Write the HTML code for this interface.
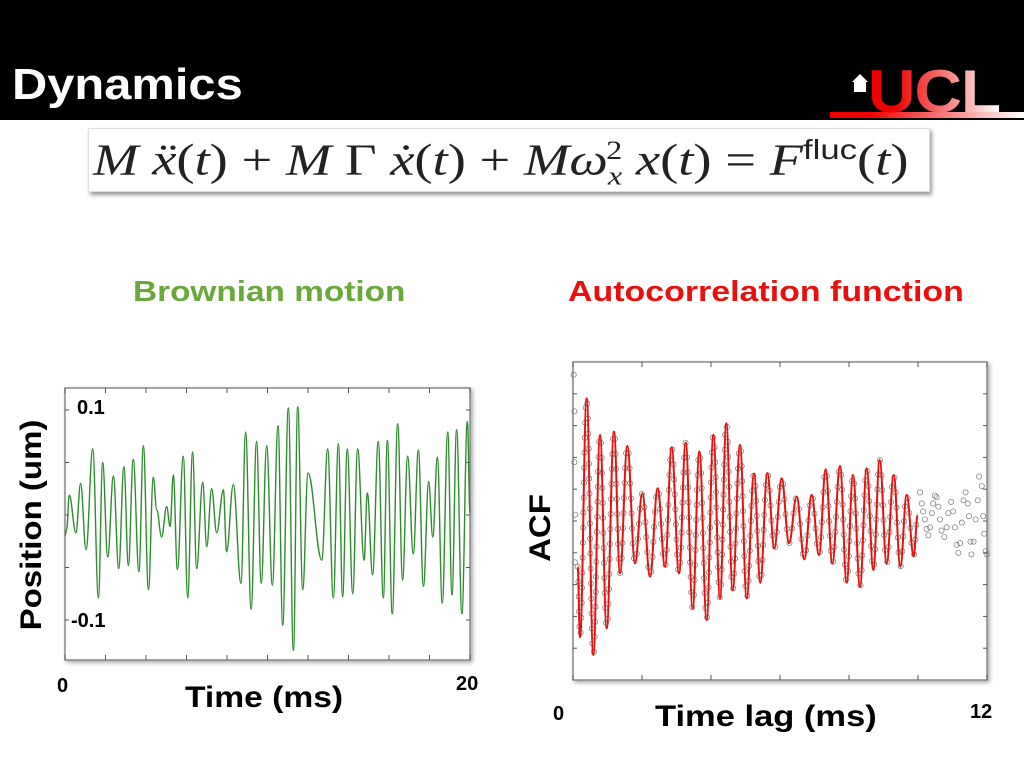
<!DOCTYPE html>
<html><head><meta charset="utf-8">
<style>
body{margin:0;width:1024px;height:768px;overflow:hidden;background:#fff;font-family:"Liberation Sans",sans-serif;position:relative}
.a{position:absolute;white-space:nowrap}
.b{font-weight:bold}
.sx{transform-origin:0 0}
</style></head><body>
<div class="a" style="left:0;top:0;width:1024px;height:120px;background:#000"></div>
<div class="a b sx" style="left:12px;top:60px;color:#fff;font-size:44px;transform:scaleX(1.11)">Dynamics</div>
<div class="a" style="left:830px;top:60px;width:194px;height:60px">
 <svg width="194" height="60"><defs><linearGradient id="g" x1="0" x2="1"><stop offset="0.2" stop-color="#e00"/><stop offset="1" stop-color="#fff"/></linearGradient></defs>
 <rect x="0" y="52" width="194" height="6" fill="url(#g)"/>
 <text x="38" y="52" font-family="Liberation Sans" font-weight="bold" font-size="60" fill="url(#g)" letter-spacing="-1" textLength="132" lengthAdjust="spacingAndGlyphs">UCL</text>
 <rect x="24" y="22" width="12" height="10" fill="#fff"/><polygon points="22,22 30,14 38,22" fill="#fff"/></svg>
</div>
<div class="a" style="left:88px;top:128px;width:840px;height:62px;background:#fff;box-shadow:2px 3px 4px #999;border:1px solid #ddd"></div>
<div class="a sx" style="left:93px;top:134px;font-family:'Liberation Serif',serif;font-size:44px;color:#222;transform:scaleX(1.24)"><i>M</i> <i>ẍ</i>(<i>t</i>) + <i>M</i> Γ <i>ẋ</i>(<i>t</i>) + <i>Mω</i><sub style="font-size:26px"><i>x</i></sub><sup style="font-size:26px;margin-left:-13px">2</sup> <i>x</i>(<i>t</i>) = <i>F</i><sup style="font-size:28px;font-family:'Liberation Sans'">fluc</sup>(<i>t</i>)</div>
<div class="a b sx" style="left:133px;top:276px;color:#6aa83c;font-size:29px;transform:scaleX(1.15)">Brownian motion</div>
<div class="a b sx" style="left:568px;top:276px;color:#e8100e;font-size:29px;transform:scaleX(1.17)">Autocorrelation function</div>

<svg class="a" id="c1" style="left:0;top:0" width="1024" height="768"></svg>

<div class="a b" style="left:32px;top:525px;font-size:30px;transform:translate(-50%,-50%) rotate(-90deg) scaleX(1.1)">Position (um)</div>
<div class="a b" style="left:77px;top:397px;font-size:20px">0.1</div>
<div class="a b" style="left:71px;top:610px;font-size:20px">-0.1</div>
<div class="a b" style="left:57px;top:675px;font-size:20px">0</div>
<div class="a b" style="left:456px;top:673px;font-size:20px">20</div>
<div class="a b sx" style="left:185px;top:681px;font-size:30px;transform:scaleX(1.12)">Time (ms)</div>
<div class="a b" style="left:541px;top:528px;font-size:30px;transform:translate(-50%,-50%) rotate(-90deg) scaleX(1.1)">ACF</div>
<div class="a b" style="left:553px;top:703px;font-size:20px">0</div>
<div class="a b" style="left:970px;top:701px;font-size:20px">12</div>
<div class="a b sx" style="left:655px;top:700px;font-size:30px;transform:scaleX(1.15)">Time lag (ms)</div>

<script>
const bmTimes=[0,0.08,0.21,0.54,0.77,1.04,1.37,1.65,1.86,2.11,2.39,2.65,2.91,3.13,3.37,3.65,3.87,4.12,4.36,4.53,4.77,5.02,5.19,5.35,5.55,5.84,6.06,6.30,6.50,6.80,7.00,7.24,7.49,7.82,7.98,8.31,8.69,8.92,9.19,9.46,9.69,9.96,10.24,10.52,10.75,11.03,11.28,11.49,11.74,12.00,12.68,12.97,13.25,13.50,13.71,13.94,14.21,14.45,14.77,14.93,15.19,15.47,15.72,15.92,16.16,16.43,16.67,16.92,17.20,17.45,17.70,17.96,18.16,18.39,18.63,18.90,19.11,19.34,19.60,19.87,20.0];
const bmValues=[-0.02,-0.014,0.019,-0.017,0.030,-0.033,0.063,-0.079,0.050,-0.040,0.037,-0.051,0.046,-0.048,0.053,-0.054,0.066,-0.071,0.036,0.005,-0.021,0.008,-0.011,0.038,-0.052,0.056,-0.079,0.060,-0.051,0.031,-0.030,0.025,-0.017,0.024,-0.035,0.029,-0.065,0.079,-0.090,0.070,-0.065,0.066,-0.067,0.085,-0.105,0.102,-0.129,0.103,-0.071,0.040,-0.043,0.063,-0.079,0.068,-0.078,0.063,-0.075,0.063,-0.043,0.021,-0.057,0.070,-0.079,0.071,-0.094,0.087,-0.062,0.056,-0.037,0.062,-0.068,0.032,-0.021,0.055,-0.084,0.079,-0.076,0.081,-0.094,0.089,0.002];
const bmXTicks=[0,2,4,6,8,10,12,14,16,18,20];
const bmYTicks=[-0.1,-0.05,0,0.05,0.1];
const acfFitT=[0.135,0.203,0.396,0.589,0.783,0.976,1.188,1.362,1.575,1.797,2.010,2.232,2.454,2.667,2.860,3.072,3.266,3.469,3.662,3.874,4.068,4.261,4.444,4.628,4.841,5.034,5.246,5.430,5.633,5.836,6.048,6.261,6.483,6.705,6.918,7.130,7.324,7.517,7.739,7.932,8.116,8.319,8.512,8.705,8.889,9.092,9.295,9.488,9.672,9.874,9.990];
const acfFitV=[-0.287,-0.730,0.772,-0.843,0.541,-0.675,0.562,-0.329,0.472,-0.266,0.174,-0.350,0.206,-0.287,0.463,-0.329,0.493,-0.550,0.436,-0.623,0.541,-0.486,0.614,-0.434,0.478,-0.486,0.298,-0.388,0.302,-0.172,0.268,-0.140,0.153,-0.241,0.164,-0.214,0.325,-0.268,0.346,-0.388,0.289,-0.413,0.331,-0.308,0.384,-0.266,0.289,-0.287,0.164,-0.220,0.036];
const acfDataT=[0.02,0.04,0.04,0.06,0.06,10.06,10.11,10.15,10.20,10.25,10.30,10.35,10.40,10.44,10.49,10.54,10.59,10.64,10.68,10.76,10.83,10.88,10.96,11.02,11.07,11.12,11.17,11.22,11.27,11.32,11.38,11.44,11.48,11.52,11.55,11.61,11.67,11.73,11.77,11.85,11.89,11.92,11.96,11.99];
const acfDataV=[0.92,0.69,0.37,0.04,-0.26,0.18,0.11,0.06,0.01,-0.05,-0.09,-0.04,0.05,0.11,0.16,0.15,0.09,0.01,-0.06,-0.10,-0.04,0.05,0.12,0.06,-0.04,-0.15,-0.20,-0.14,-0.01,0.13,0.18,0.11,0.03,-0.13,-0.21,-0.13,0.01,0.13,0.28,0.22,0.03,-0.08,-0.19,-0.21];
const acfXTicks=[0,2,4,6,8,10,12];
const acfYTicks=[-0.8,-0.6,-0.4,-0.2,0,0.2,0.4,0.6,0.8];

const NS='http://www.w3.org/2000/svg';
const svg=document.getElementById('c1');
function mk(tag,at,parent){const e=document.createElementNS(NS,tag);for(const k in at)e.setAttribute(k,at[k]);(parent||svg).appendChild(e);return e;}
function pathThrough(xs,ys){let d='M'+xs[0]+','+ys[0];for(let i=1;i<xs.length;i++){const dx=(xs[i]-xs[i-1])/2.6;d+=' C'+(xs[i-1]+dx)+','+ys[i-1]+' '+(xs[i]-dx)+','+ys[i]+' '+xs[i]+','+ys[i];}return d;}

const L={x0:65,x1:470,y0:388,y1:660};
const lx=t=>L.x0+t/20*(L.x1-L.x0);
const ly=v=>515-v*1050;
let e=mk('rect',{x:L.x0,y:L.y0,width:L.x1-L.x0,height:L.y1-L.y0,fill:'#fff',stroke:'#888','stroke-width':1.5,style:'filter:drop-shadow(2px 2px 2px #aaa)'});


bmXTicks.forEach(t=>{const x=lx(t);
 let k=mk('line',{x1:x,x2:x,y1:L.y1,y2:L.y1-5,stroke:'#555'});
 
 
 k=mk('line',{x1:x,x2:x,y1:L.y0,y2:L.y0+5,stroke:'#555'});
 
 });
bmYTicks.forEach(v=>{const y=ly(v);
 let k=mk('line',{x1:L.x0,x2:L.x0+4,y1:y,y2:y,stroke:'#555'});
 
 
 k=mk('line',{x1:L.x1,x2:L.x1-4,y1:y,y2:y,stroke:'#555'});
 
 });
e=mk('path',{d:pathThrough(bmTimes.map(lx),bmValues.map(ly)),fill:'none',stroke:'#2e8b2e','stroke-width':1.4});



const R={x0:573,x1:987,y0:362,y1:680};
const rx=t=>R.x0+t/12*(R.x1-R.x0);
const ry=v=>521-v*159;
e=mk('rect',{x:R.x0,y:R.y0,width:R.x1-R.x0,height:R.y1-R.y0,fill:'#fff',stroke:'#888','stroke-width':1.5,style:'filter:drop-shadow(2px 2px 2px #aaa)'});


acfXTicks.forEach(t=>{const x=rx(t);
 let k=mk('line',{x1:x,x2:x,y1:R.y1,y2:R.y1-5,stroke:'#555'});
 
 
 k=mk('line',{x1:x,x2:x,y1:R.y0,y2:R.y0+5,stroke:'#555'});
 
 });
acfYTicks.forEach(v=>{const y=ry(v);
 let k=mk('line',{x1:R.x0,x2:R.x0+4,y1:y,y2:y,stroke:'#555'});
 
 
 k=mk('line',{x1:R.x1,x2:R.x1-4,y1:y,y2:y,stroke:'#555'});
 
 });
const fit=mk('path',{d:pathThrough(acfFitT.map(rx),acfFitV.map(ry)),fill:'none',stroke:'#e8100e','stroke-width':2});


const g=mk('g',{fill:'none',stroke:'#777','stroke-width':0.7});


const len=fit.getTotalLength();
for(let s=0;s<len;s+=15){const p=fit.getPointAtLength(s);
 const c=mk('circle',{cx:p.x,cy:p.y,r:2.6},g);
 
 }
acfDataT.forEach((t,i)=>{
 const c=mk('circle',{cx:rx(t),cy:ry(acfDataV[i]),r:2.6},g);
 
 });
svg.appendChild(fit);
</script>
</body></html>
